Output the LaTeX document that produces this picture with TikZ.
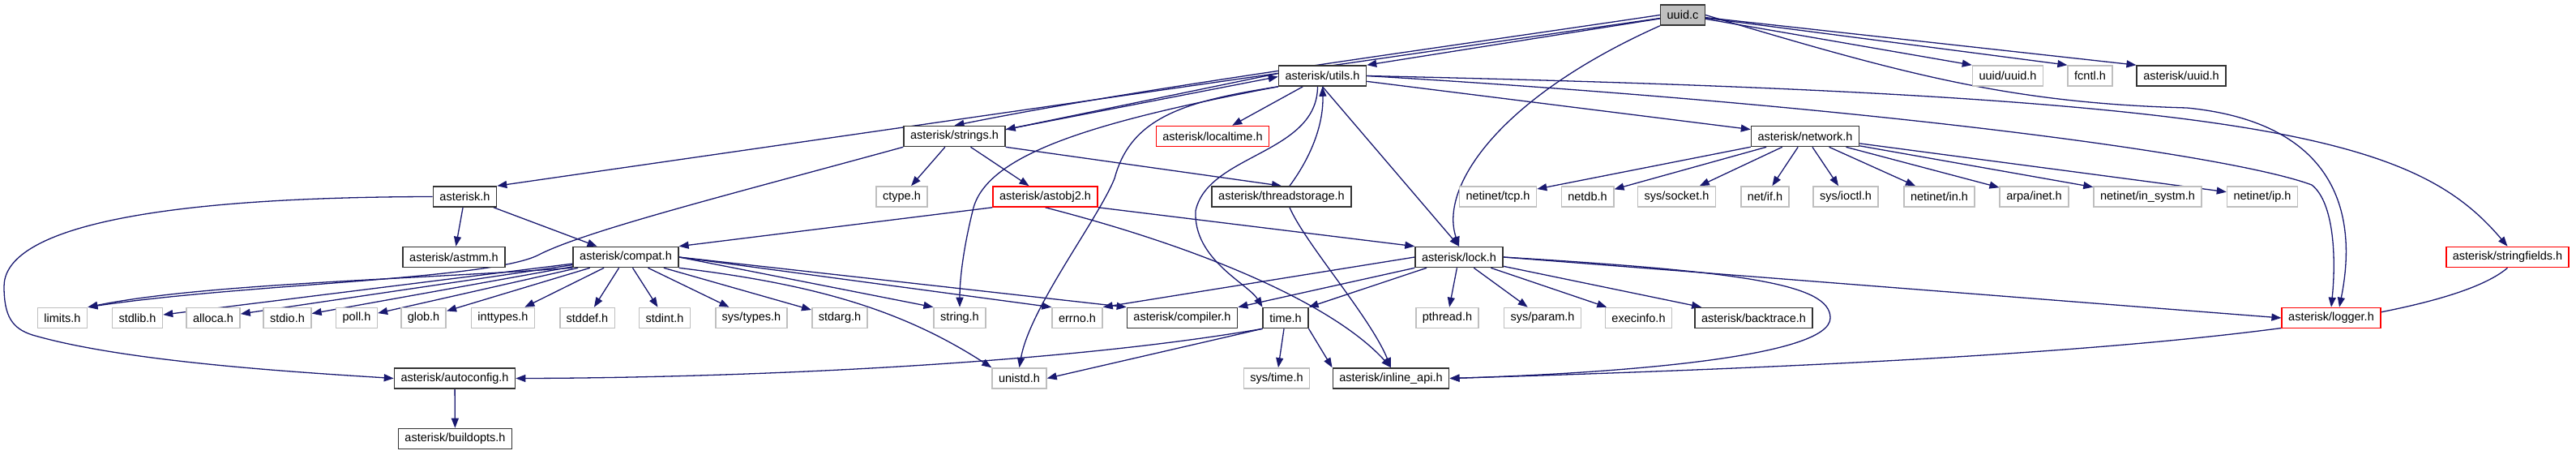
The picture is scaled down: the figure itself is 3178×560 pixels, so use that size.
\documentclass[tikz,border=0pt]{standalone}
\usepackage{fontspec}
\setmainfont{Liberation Sans}
\usepackage{tikz}
\usetikzlibrary{arrows.meta}
\definecolor{edgeblue}{HTML}{191970}
\definecolor{extgray}{HTML}{BFBFBF}
\pgfdeclarelayer{bg}
\pgfsetlayers{bg,main}
\tikzset{
  file/.style={rectangle,inner xsep=8pt,inner ysep=0pt,minimum height=25pt,
    font=\fontsize{14.5}{16}\selectfont,fill=white,line width=1.6pt},
  docfile/.style={file,draw=black!80},
  extfile/.style={file,draw=extgray},
  redfile/.style={file,draw=red},
  mainfile/.style={file,draw=black!80,fill=extgray},
  dep/.style={-{Triangle[length=12pt,width=9pt]},line width=1.3pt,draw=edgeblue}
}
\begin{document}
\begin{tikzpicture}[x=1pt,y=-1pt]
\useasboundingbox (0,0) rectangle (3178,560);
% top rows
\node[mainfile] (uuidc) at (2076,18.5) {uuid.c};
\node[docfile] (utils) at (1631.5,93.5) {asterisk/utils.h};
\node[extfile] (uuidh) at (2477,93.5) {uuid/uuid.h};
\node[extfile] (fcntl) at (2578.5,93.5) {fcntl.h};
\node[docfile] (astuuid) at (2691,93.5) {asterisk/uuid.h};
\node[docfile] (strings) at (1177.5,168) {asterisk/strings.h};
\node[redfile] (localtime) at (1496,168) {asterisk/localtime.h};
\node[docfile] (network) at (2227,168) {asterisk/network.h};
% row d
\node[docfile] (asterisk) at (573.5,242.5) {asterisk.h};
\node[extfile] (ctype) at (1112.5,242.5) {ctype.h};
\node[redfile] (astobj) at (1289.5,242.5) {asterisk/astobj2.h};
\node[docfile] (tstorage) at (1581,242.5) {asterisk/threadstorage.h};
\node[extfile] (tcp) at (1848,242.5) {netinet/tcp.h};
\node[extfile] (netdb) at (1958.5,242.5) {netdb.h};
\node[extfile] (socket) at (2068.5,242.5) {sys/socket.h};
\node[extfile] (netif) at (2177.5,242.5) {net/if.h};
\node[extfile] (ioctl) at (2277,242.5) {sys/ioctl.h};
\node[extfile] (netin) at (2392.5,242.5) {netinet/in.h};
\node[extfile] (inet) at (2509.5,242.5) {arpa/inet.h};
\node[extfile] (insystm) at (2649.5,242.5) {netinet/in\_systm.h};
\node[extfile] (netip) at (2791,242.5) {netinet/ip.h};
% row e
\node[docfile] (astmm) at (560,317) {asterisk/astmm.h};
\node[docfile] (compat) at (772,317) {asterisk/compat.h};
\node[docfile] (lock) at (1800,317) {asterisk/lock.h};
\node[redfile] (sfields) at (3093.5,317) {asterisk/stringfields.h};
% row f
\node[extfile] (limits) at (77,392) {limits.h};
\node[extfile] (stdlib) at (169.5,392) {stdlib.h};
\node[extfile] (alloca) at (263,392) {alloca.h};
\node[extfile] (stdio) at (354.5,392) {stdio.h};
\node[extfile] (poll) at (440,392) {poll.h};
\node[extfile] (glob) at (522.5,392) {glob.h};
\node[extfile] (inttypes) at (620.5,392) {inttypes.h};
\node[extfile] (stddef) at (724.5,392) {stddef.h};
\node[extfile] (stdint) at (820,392) {stdint.h};
\node[extfile] (systypes) at (927,392) {sys/types.h};
\node[extfile] (stdarg) at (1036,392) {stdarg.h};
\node[extfile] (string) at (1184,392) {string.h};
\node[extfile] (errno) at (1329,392) {errno.h};
\node[docfile] (compiler) at (1458.5,392) {asterisk/compiler.h};
\node[docfile] (time) at (1586,392) {time.h};
\node[extfile] (pthread) at (1785.5,392) {pthread.h};
\node[extfile] (param) at (1903,392) {sys/param.h};
\node[extfile] (execinfo) at (2021.5,392) {execinfo.h};
\node[docfile] (backtrace) at (2163.5,392) {asterisk/backtrace.h};
\node[redfile] (logger) at (2876,392) {asterisk/logger.h};
% bottom rows
\node[docfile] (autoconf) at (561,466.5) {asterisk/autoconfig.h};
\node[extfile] (unistd) at (1257.5,466.5) {unistd.h};
\node[extfile] (systime) at (1575,466.5) {sys/time.h};
\node[docfile] (inline) at (1716,466.5) {asterisk/inline\_api.h};
\node[docfile] (buildopts) at (561.5,541) {asterisk/buildopts.h};

\begin{pgfonlayer}{bg}
% uuid.c
\draw[dep] (uuidc) -- (asterisk.north east);
\draw[dep] (uuidc.west) .. controls (1700,70) and (1400,110) .. (strings.north);
\draw[dep] (uuidc) -- (utils.north east);
\draw[dep] (uuidc.south west) .. controls (1850,120) and (1775,230) .. (lock.north);
\draw[dep] (uuidc) -- (uuidh.north west);
\draw[dep] (uuidc) -- (fcntl.north west);
\draw[dep] (uuidc) -- (astuuid.north west);
\draw[dep] (uuidc.east) .. controls (2350,92) and (2480,127) .. (2698,133)
  .. controls (2870,150) and (2912,250) .. ([xshift=10pt]logger.north);
% utils.h
\draw[dep] ([yshift=3pt]utils.west) -- ([yshift=-5pt]strings.north east);
\draw[dep] ([yshift=-5pt]strings.north east) -- ([yshift=-1pt]utils.west);
\draw[dep] (utils) -- (localtime);
\draw[dep] (utils) -- (network);
\draw[dep] (utils.south) -- (lock.north);
\draw[dep] (utils.south west) .. controls (1350,150) and (1215,190) .. (1200,260)
  .. controls (1190,300) and (1184,340) .. (string.north);
\draw[dep] (utils.south west) .. controls (1460,125) and (1395,145) .. (1375,220)
  .. controls (1355,270) and (1270,380) .. (unistd.north);
\draw[dep] ([xshift=-6pt]utils.south) .. controls (1625,190) and (1490,190) .. (1475,260)
  .. controls (1472,320) and (1540,350) .. (time.north west);
\draw[dep] (utils.east) .. controls (2300,130) and (2750,190) .. (2852,228)
  .. controls (2880,250) and (2882,320) .. (logger.north);
\draw[dep] (utils.east) .. controls (2800,118) and (2980,170) .. (sfields.north);
% strings.h
\draw[dep] (strings) -- (ctype);
\draw[dep] (strings) -- (astobj);
\draw[dep] (strings.south east) -- (tstorage.north);
\draw[dep] (strings.south west) .. controls (900,240) and (720,285) .. (663,315)
  .. controls (600,345) and (300,350) .. (limits.north east);
\draw[dep] ([xshift=10pt]tstorage.north) .. controls (1620,190) and (1633,150) .. (utils.south);
\draw[dep] ([xshift=10pt]tstorage.south) .. controls (1610,300) and (1690,390) .. (inline.north);
% network.h
\foreach \n in {tcp,netdb,socket,netif,ioctl,netin,inet,insystm,netip}
  \draw[dep] (network) -- (\n);
% asterisk.h
\draw[dep] (asterisk.west) .. controls (150,243) and (5,290) .. (5,353)
  .. controls (5,390) and (15,405) .. (40,413)
  .. controls (150,445) and (350,458) .. (autoconf.west);
\draw[dep] (asterisk) -- (astmm);
\draw[dep] (asterisk) -- (compat);
% astobj2.h
\draw[dep] (astobj.south west) -- (compat.north east);
\draw[dep] (astobj.south east) -- (lock.north west);
\draw[dep] (astobj.south) .. controls (1500,310) and (1650,380) .. (inline.north);
% compat.h
\draw[dep] (compat.south west) .. controls (500,345) and (250,350) .. (limits.north east);
\foreach \n in {stdlib,alloca,stdio,poll,glob,inttypes,stddef,stdint,systypes,stdarg}
  \draw[dep] (compat) -- (\n);
\draw[dep] (compat.east) -- (string.north west);
\draw[dep] (compat.east) -- (errno.north west);
\draw[dep] (compat.east) -- (compiler.north west);
\draw[dep] (compat.south east) .. controls (1000,350) and (1110,380) .. (unistd.north west);
% lock.h
\draw[dep] (lock.west) -- (errno.north east);
\draw[dep] (lock.south west) -- (compiler.north east);
\draw[dep] (lock) -- (time.north east);
\foreach \n in {pthread,param,execinfo,backtrace}
  \draw[dep] (lock) -- (\n);
\draw[dep] (lock.east) -- (logger.west);
\draw[dep] (lock.east) .. controls (2150,335) and (2258,350) .. (2258,392)
  .. controls (2258,440) and (2000,460) .. (inline.east);
% time.h
\draw[dep] (time.south west) .. controls (1300,450) and (900,466) .. (autoconf.east);
\draw[dep] (time.south west) -- (unistd.east);
\draw[dep] (time) -- (systime);
\draw[dep] (time.south east) -- (inline.north west);
% rest
\draw[dep] (sfields.south) .. controls (3000,410) and (2500,445) .. (inline.east);
\draw[dep] (autoconf) -- (buildopts);
\end{pgfonlayer}
\end{tikzpicture}
\end{document}
